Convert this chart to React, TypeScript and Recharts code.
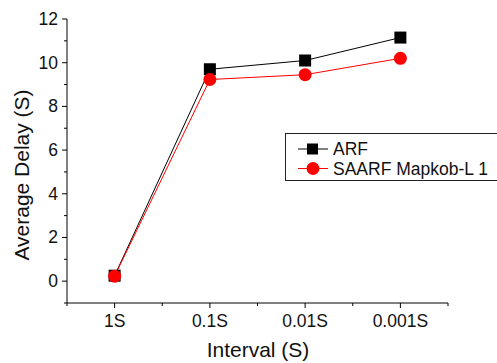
import { LineChart, Line, XAxis, YAxis, Legend } from 'recharts';

const categories = ['1S', '0.1S', '0.01S', '0.001S'];
const arf = [0.25, 9.7, 10.1, 11.15];
const saarf = [0.23, 9.23, 9.45, 10.2];
const xTicks = [0.5, 1, 1.5, 2, 2.5, 3, 3.5, 4, 4.5];
const yTicks = [-1, 0, 1, 2, 3, 4, 5, 6, 7, 8, 9, 10, 11, 12];

const data = categories.map((name, i) => ({ x: i + 1, name, arf: arf[i], saarf: saarf[i] }));

const FONT = '"Liberation Sans", Arial, sans-serif';

const XTick = (props: any) => {
  const { x, y, payload } = props;
  const v = payload.value;
  const major = Number.isInteger(v);
  return (
    <g>
      <line x1={x} x2={x} y1={y} y2={y + (major ? 5 : 3)} stroke="#000" />
      {major && (
        <text x={x} y={y + 24} textAnchor="middle" fontSize={17.5} fontFamily={FONT} fill="#111">
          {categories[v - 1]}
        </text>
      )}
    </g>
  );
};

const YTick = (props: any) => {
  const { x, y, payload } = props;
  const v = payload.value;
  const major = v >= 0 && v % 2 === 0;
  return (
    <g>
      <line x1={x} x2={x - (major ? 5 : 3)} y1={y} y2={y} stroke="#000" />
      {major && (
        <text x={x - 9} y={y + 6} textAnchor="end" fontSize={17.5} fontFamily={FONT} fill="#111">
          {v}
        </text>
      )}
    </g>
  );
};

const Square = (props: any) => {
  const { cx, cy } = props;
  return <rect x={cx - 6} y={cy - 6} width={12} height={12} fill="#000" />;
};

const Dot = (props: any) => {
  const { cx, cy } = props;
  return <circle cx={cx} cy={cy} r={6.5} fill="#ff0000" />;
};

const LegendBox = () => (
  <svg width={230} height={48} style={{ display: 'block' }}>
    <rect x={0.5} y={0.5} width={240} height={47} fill="#fff" stroke="#222" />
    <line x1={13} x2={43} y1={16} y2={16} stroke="#000" />
    <rect x={22} y={10.5} width={11} height={11} fill="#000" />
    <text x={48} y={22} fontSize={17.5} fontFamily={FONT} fill="#111">ARF</text>
    <line x1={13} x2={43} y1={35.5} y2={35.5} stroke="#ff0000" />
    <circle cx={28} cy={35.5} r={6.5} fill="#ff0000" />
    <text x={48} y={42} fontSize={17.5} fontFamily={FONT} fill="#111">SAARF Mapkob-L 1</text>
  </svg>
);

export default function App() {
  return (
    <div style={{ position: 'absolute', left: 0, top: 0, width: 497, height: 363, overflow: 'hidden', background: '#fff' }}>
      <LineChart width={497} height={363} data={data} margin={{ top: 19, right: 49, bottom: 0, left: 0 }}>
        <XAxis
          dataKey="x"
          type="number"
          domain={[0.5, 4.5]}
          ticks={xTicks}
          interval={0}
          tickSize={0}
          tickMargin={0}
          tick={<XTick />}
          height={60}
          stroke="#000"
          tickLine={false}
        />
        <YAxis
          type="number"
          domain={[-1, 12]}
          ticks={yTicks}
          interval={0}
          tickSize={0}
          tickMargin={0}
          tick={<YTick />}
          width={67}
          stroke="#000"
          tickLine={false}
        />
        <Legend
          layout="vertical"
          align="center"
          verticalAlign="middle"
          wrapperStyle={{ left: 285, top: 133, width: 230, height: 48 }}
          content={() => <LegendBox />}
        />
        <Line type="linear" dataKey="arf" stroke="#000" strokeWidth={1} dot={<Square />} isAnimationActive={false} />
        <Line type="linear" dataKey="saarf" stroke="#ff0000" strokeWidth={1} dot={<Dot />} isAnimationActive={false} />
        <text x={258} y={357} textAnchor="middle" fontSize={21} fontFamily={FONT} fill="#111">
          Interval (S)
        </text>
        <text
          x={29}
          y={175}
          textAnchor="middle"
          fontSize={21}
          fontFamily={FONT}
          fill="#111"
          transform="rotate(-90 29 175)"
        >
          Average Delay (S)
        </text>
      </LineChart>
    </div>
  );
}
